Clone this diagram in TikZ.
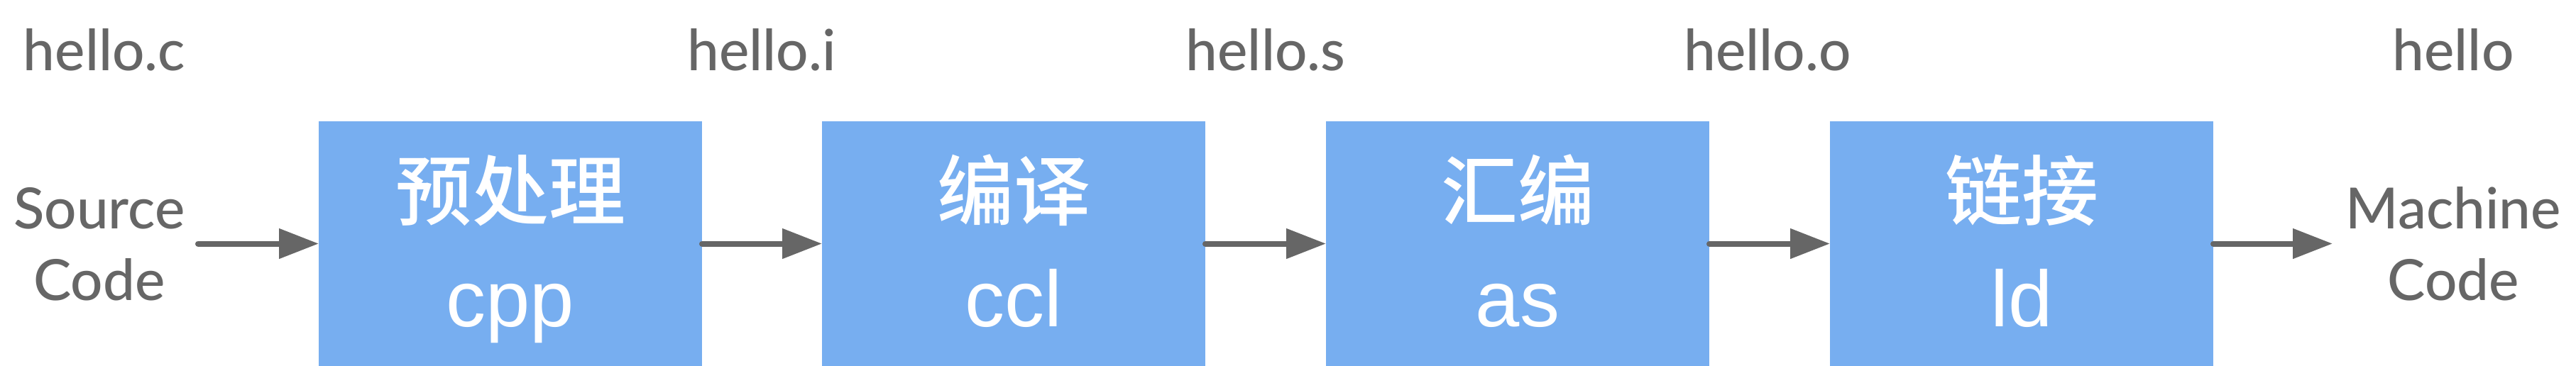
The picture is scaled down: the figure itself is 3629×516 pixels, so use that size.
\documentclass[tikz,border=0pt]{standalone}
\usepackage{fontspec}
\setmainfont{Lato Medium}
\newfontfamily\cjk{Noto Sans CJK SC Medium}
\newfontfamily\boxlat{Liberation Sans}
\usetikzlibrary{arrows.meta}
\definecolor{boxblue}{HTML}{77AEF0}
\definecolor{txtgray}{HTML}{666666}
\begin{document}
\begin{tikzpicture}[x=1pt,y=-1pt,
 stage/.style={fill=boxblue, draw=none, minimum width=540pt, minimum height=345pt, inner sep=0pt, outer sep=0pt, anchor=north west},
 cnlabel/.style={text=white, font=\cjk\fontsize{108}{108}\selectfont, anchor=base, inner sep=0pt},
 cmdlabel/.style={text=white, font=\boxlat\fontsize{112}{112}\selectfont, anchor=base, inner sep=0pt},
 file/.style={text=txtgray, font=\fontsize{80}{101}\selectfont, anchor=base, inner sep=0pt, align=center},
 flow/.style={draw=txtgray, line width=8pt, line cap=round, -{Triangle[length=56pt,width=41pt]}}
]
\useasboundingbox (0,0) rectangle (3629,516);
\node[stage] (b1) at (449,171) {};
\node[stage] (b2) at (1158,171) {};
\node[stage] (b3) at (1868,171) {};
\node[stage] (b4) at (2578,171) {};
\node[cnlabel] (c1) at (719,309) {预处理};
\node[cnlabel] (c2) at (1428,309) {编译};
\node[cnlabel] (c3) at (2138,309) {汇编};
\node[cnlabel] (c4) at (2848,309) {链接};
\node[cmdlabel] (m1) at (719,460) {cpp};
\node[cmdlabel] (m2) at (1428,460) {ccl};
\node[cmdlabel] (m3) at (2138,460) {as};
\node[cmdlabel] (m4) at (2848,460) {ld};
\node[file] (f0) at (147,100) {hello.c};
\node[file] (f1) at (1073,100) {hello.i};
\node[file] (f2) at (1783,100) {hello.s};
\node[file] (f3) at (2490,100) {hello.o};
\node[file] (f4) at (3456,100) {hello};
\node[file] (src) at (140,423) {Source\\Code};
\node[file] (mc) at (3456,423) {Machine\\Code};
\coordinate (a0) at (279,343.5);
\coordinate (a5) at (3286,343.5);
\draw[flow] (a0) -- (b1.west);
\draw[flow] (b1.east) -- (b2.west);
\draw[flow] (b2.east) -- (b3.west);
\draw[flow] (b3.east) -- (b4.west);
\draw[flow] (b4.east) -- (a5);
\end{tikzpicture}
\end{document}
